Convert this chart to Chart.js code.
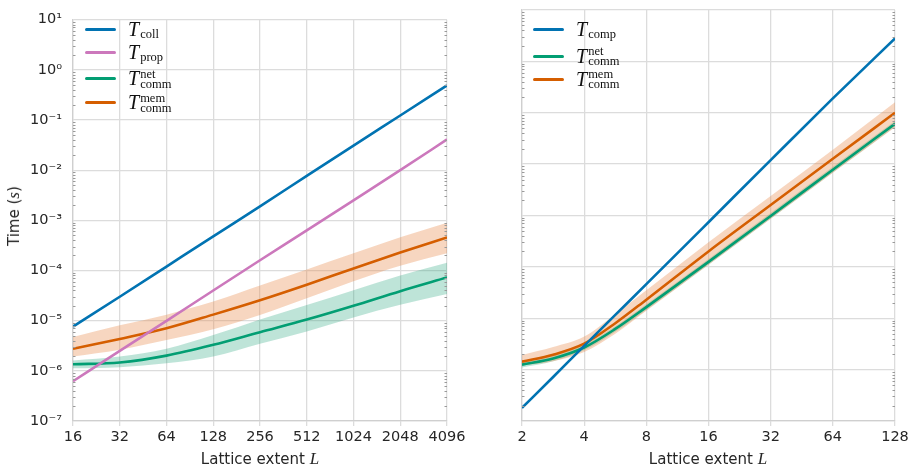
<!DOCTYPE html>
<html>
<head>
<meta charset="utf-8">
<script src="https://cdn.jsdelivr.net/npm/chart.js@4.4.1/dist/chart.umd.min.js"></script>
<style>
  body { margin: 0; background: #fff; }
  #wrap { position: relative; width: 915px; height: 473px; overflow: hidden; }
  canvas { position: absolute; top: 0; }
  #c1 { left: 0; }
  #c2 { left: 470px; }
  .ovl { position: absolute; color: #262626; font-family: "DejaVu Sans", sans-serif; white-space: nowrap; }
  .xt { font-size: 15px; top: 449px; transform: translateX(-50%); }
  .yt { font-size: 15px; left: 14px; top: 216px; transform: translate(-50%, -50%) rotate(-90deg); }
  .m { font-family: "Liberation Serif", serif; font-style: italic; font-size: 17px; }
  .row { position: absolute; height: 26px; display: flex; align-items: center; }
  .ln { width: 31px; height: 3px; border-radius: 1.5px; margin-right: 12px; }
  .T { font-family: "Liberation Serif", serif; font-style: italic; font-size: 20px; color: #111; }
  .sb { font-family: "Liberation Serif", serif; font-size: 12.5px; color: #111; position: relative; top: 5px; margin-left: 1px; }
  .st { display: inline-block; font-family: "Liberation Serif", serif; font-size: 12.5px; color: #111; line-height: 10px; vertical-align: middle; margin-left: 1px; }
  .st span { display: block; }
</style>
</head>
<body>
<div id="wrap">
  <canvas id="c1" width="470" height="473"></canvas>
  <canvas id="c2" width="445" height="473"></canvas>
  <div class="ovl yt">Time (<span class="m">s</span>)</div>
  <div class="ovl xt" style="left:260px">Lattice extent <span class="m">L</span></div>
  <div class="ovl xt" style="left:708px">Lattice extent <span class="m">L</span></div>
  <div id="leg1"></div>
  <div id="leg2"></div>
</div>
<script>
// ---- data ----
const xLeft = [16, 32, 64, 128, 256, 512, 1024, 2048, 4096];
const collLeft = [7.6e-6, 3.0e-5, 1.2e-4, 4.8e-4, 1.9e-3, 7.7e-3, 3.1e-2, 0.123, 0.49];
const propLeft = [6.2e-7, 2.5e-6, 9.9e-6, 4.0e-5, 1.6e-4, 6.3e-4, 2.5e-3, 1.0e-2, 4.1e-2];
const netLeft = [1.35e-6, 1.47e-6, 2.01e-6, 3.3e-6, 5.9e-6, 1.05e-5, 1.98e-5, 3.88e-5, 7.26e-5];
const netLeftHi = [1.61e-6, 1.93e-6, 2.75e-6, 5.16e-6, 1.06e-5, 2.05e-5, 4.06e-5, 7.94e-5, 1.42e-4];
const netLeftLo = [1.12e-6, 1.18e-6, 1.41e-6, 1.93e-6, 3.45e-6, 6.1e-6, 1.16e-5, 2.07e-5, 3.39e-5];
const memLeft = [2.75e-6, 4.32e-6, 7.06e-6, 1.32e-5, 2.55e-5, 5.2e-5, 1.1e-4, 2.28e-4, 4.56e-4];
const memLeftHi = [4.72e-6, 8.09e-6, 1.32e-5, 2.4e-5, 5.0e-5, 1.05e-4, 2.2e-4, 4.6e-4, 8.93e-4];
const memLeftLo = [1.93e-6, 2.64e-6, 4.13e-6, 6.76e-6, 1.3e-5, 2.8e-5, 6.1e-5, 1.24e-4, 2.2e-4];

const xRightTicks = [2, 4, 8, 16, 32, 64, 128];
const xRight = [2, 2.83, 4, 5.66, 8, 16, 32, 64, 128];
const compRight = [1.8e-7, 7.2e-7, 2.9e-6, 1.16e-5, 4.6e-5, 7.4e-4, 1.2e-2, 0.19, 2.8];
const netRight = [1.25e-6, 1.65e-6, 2.7e-6, 6.2e-6, 1.65e-5, 1.25e-4, 9.8e-4, 7.8e-3, 6.1e-2];
const netRightHi = [1.42e-6, 1.88e-6, 3.05e-6, 7.0e-6, 1.88e-5, 1.42e-4, 1.12e-3, 8.9e-3, 6.9e-2];
const netRightLo = [1.1e-6, 1.45e-6, 2.37e-6, 5.45e-6, 1.45e-5, 1.1e-4, 8.6e-4, 6.85e-3, 5.35e-2];
const memRight = [1.43e-6, 1.95e-6, 3.2e-6, 8.0e-6, 2.3e-5, 2.0e-4, 1.6e-3, 1.27e-2, 0.1];
const memRightHi = [1.93e-6, 2.75e-6, 4.4e-6, 1.2e-5, 3.5e-5, 3.0e-4, 2.4e-3, 1.9e-2, 0.16];
const memRightLo = [1.2e-6, 1.45e-6, 2.2e-6, 5.0e-6, 1.4e-5, 1.1e-4, 8.6e-4, 6.8e-3, 5.2e-2];

const yTicks = [1e-7, 1e-6, 1e-5, 1e-4, 1e-3, 1e-2, 1e-1, 1e0, 1e1];
const yExp = ["-7", "-6", "-5", "-4", "-3", "-2", "-1", "0", "1"];

const BLUE = "#0173b2", PINK = "#cc78bc", GREEN = "#029e73", ORANGE = "#d55e00";

const sup = { "-": "\u207b", "0": "\u2070", "1": "\u00b9", "2": "\u00b2", "3": "\u00b3", "4": "\u2074", "5": "\u2075", "6": "\u2076", "7": "\u2077", "8": "\u2078", "9": "\u2079" };
const supStr = (s) => s.split("").map((c) => sup[c]).join("");

const pts = (xs, ys) => xs.map((x, i) => ({ x, y: ys[i] }));

function line(label, xs, ys, color, order) {
  return {
    label, data: pts(xs, ys), borderColor: color, borderWidth: 2.6,
    pointRadius: 0, fill: false, cubicInterpolationMode: "monotone", order,
  };
}
function band(xs, hi, lo, rgba) {
  return [
    { label: "", data: pts(xs, hi), borderWidth: 0, pointRadius: 0, backgroundColor: rgba,
      fill: "+1", cubicInterpolationMode: "monotone", order: 20 },
    { label: "", data: pts(xs, lo), borderWidth: 0, pointRadius: 0, fill: false,
      cubicInterpolationMode: "monotone", order: 21 },
  ];
}

// small minor ticks on both edges of the plot
const minorTicks = {
  id: "minorTicks",
  afterDraw(chart) {
    const { ctx, chartArea: a } = chart;
    const y = chart.scales.y;
    ctx.save();
    ctx.strokeStyle = "#9a9a9a";
    ctx.lineWidth = 1;
    for (let e = -7; e < 1; e++) {
      for (let k = 2; k < 10; k++) {
        const py = Math.round(y.getPixelForValue(k * Math.pow(10, e))) + 0.5;
        ctx.beginPath();
        ctx.moveTo(a.left, py); ctx.lineTo(a.left + 2.5, py);
        ctx.moveTo(a.right, py); ctx.lineTo(a.right - 2.5, py);
        ctx.stroke();
      }
    }
    ctx.restore();
  },
};

function makeChart(id, xTicks, xMin, xMax, datasets, showY, yWidth, padRight) {
  return new Chart(document.getElementById(id), {
    type: "line",
    data: { datasets },
    plugins: [minorTicks],
    options: {
      responsive: false,
      animation: false,
      layout: { padding: { top: 10, right: padRight, left: 0, bottom: 0 } },
      plugins: { legend: { display: false }, tooltip: { enabled: false } },
      scales: {
        x: {
          type: "logarithmic", min: xMin, max: xMax,
          afterBuildTicks: (s) => { s.ticks = xTicks.map((v) => ({ value: v })); },
          afterFit: (s) => { s.height = 52; },
          ticks: { callback: (v) => String(v), color: "#262626", autoSkip: false, maxRotation: 0,
            padding: 3, font: { family: "DejaVu Sans", size: 14.5 } },
          grid: { color: "#dcdcdc", lineWidth: 1.3, tickLength: 5, tickColor: "#dcdcdc" },
          border: { color: "#cfcfcf", width: 1.3 },
        },
        y: {
          type: "logarithmic", min: 1e-7, max: 10,
          afterBuildTicks: (s) => { s.ticks = yTicks.map((v) => ({ value: v })); },
          afterFit: (s) => { s.width = yWidth; },
          ticks: { display: showY, callback: (v, i) => "10" + supStr(yExp[i]), color: "#262626",
            padding: 11, font: { family: "DejaVu Sans", size: 14.5 } },
          grid: { color: "#dcdcdc", lineWidth: 1.3, drawTicks: false },
          border: { color: "#cfcfcf", width: 1.3 },
        },
      },
    },
  });
}

makeChart("c1", xLeft, 16, 4096, [
  line("coll", xLeft, collLeft, BLUE, 1),
  line("prop", xLeft, propLeft, PINK, 2),
  line("net", xLeft, netLeft, GREEN, 3),
  line("mem", xLeft, memLeft, ORANGE, 4),
  ...band(xLeft, memLeftHi, memLeftLo, "rgba(232,140,80,0.36)"),
  ...band(xLeft, netLeftHi, netLeftLo, "rgba(40,165,125,0.30)"),
], true, 73, 23);

makeChart("c2", xRightTicks, 2, 128, [
  line("comp", xRight, compRight, BLUE, 1),
  line("mem", xRight, memRight, ORANGE, 2),
  line("net", xRight, netRight, GREEN, 3),
  ...band(xRight, memRightHi, memRightLo, "rgba(232,140,80,0.36)"),
  ...band(xRight, netRightHi, netRightLo, "rgba(40,165,125,0.30)"),
], false, 52, 20);

// ---- legends ----
const legLeft = [
  { color: BLUE, sub: "coll", y: 29.5 },
  { color: PINK, sub: "prop", y: 52.5 },
  { color: GREEN, sup: "net", sub: "comm", y: 78.5 },
  { color: ORANGE, sup: "mem", sub: "comm", y: 102.5 },
];
const legRight = [
  { color: BLUE, sub: "comp", y: 29 },
  { color: GREEN, sup: "net", sub: "comm", y: 56 },
  { color: ORANGE, sup: "mem", sub: "comm", y: 79 },
];
function buildLegend(elId, items, left) {
  document.getElementById(elId).innerHTML = items.map((it) => {
    const lbl = it.sup
      ? `<span class="T">T</span><span class="st"><span>${it.sup}</span><span>${it.sub}</span></span>`
      : `<span class="T">T</span><span class="sb">${it.sub}</span>`;
    return `<div class="row" style="left:${left}px;top:${it.y - 13}px">
      <div class="ln" style="background:${it.color}"></div>${lbl}</div>`;
  }).join("");
}
buildLegend("leg1", legLeft, 85);
buildLegend("leg2", legRight, 533);
</script>
</body>
</html>
